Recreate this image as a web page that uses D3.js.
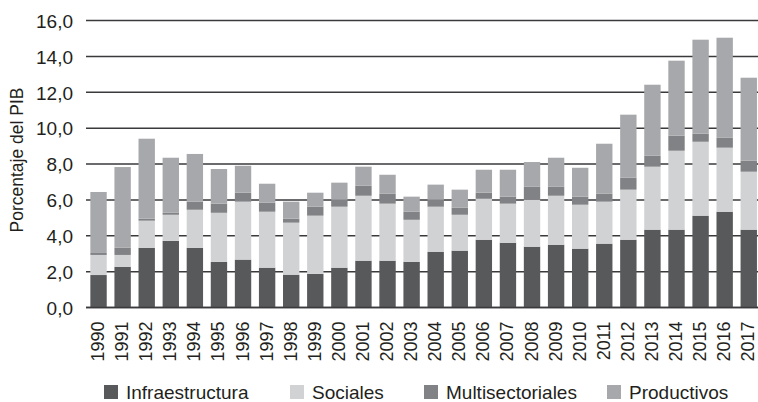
<!DOCTYPE html>
<html>
<head>
<meta charset="utf-8">
<script src="https://cdn.jsdelivr.net/npm/d3@7"></script>
<style>
  html, body { margin: 0; padding: 0; background: #fff; }
  svg { display: block; }
  text { font-family: "Liberation Sans", Arial, sans-serif; fill: #231f20; }
</style>
</head>
<body>
<svg id="chart" width="758" height="402"></svg>
<script>
// Years on the horizontal axis
const years = ["1990","1991","1992","1993","1994","1995","1996","1997","1998","1999",
  "2000","2001","2002","2003","2004","2005","2006","2007","2008","2009",
  "2010","2011","2012","2013","2014","2015","2016","2017"];

// Stacked components, percent of GDP
const infraestructura = [1.81,2.27,3.33,3.72,3.33,2.54,2.67,2.22,1.83,1.88,
  2.22,2.61,2.61,2.55,3.11,3.17,3.78,3.61,3.39,3.50,
  3.28,3.56,3.78,4.34,4.34,5.12,5.34,4.34];
const sociales = [1.12,0.66,1.51,1.45,2.12,2.74,3.23,3.12,2.90,3.24,
  3.40,3.62,3.18,2.34,2.51,2.00,2.28,2.18,2.62,2.73,
  2.45,2.34,2.79,3.51,4.40,4.12,3.57,3.23];
const multisectoriales = [0.11,0.40,0.11,0.11,0.45,0.51,0.50,0.50,0.22,0.50,
  0.39,0.56,0.55,0.45,0.39,0.39,0.34,0.39,0.72,0.50,
  0.45,0.44,0.67,0.61,0.84,0.45,0.55,0.61];
const productivos = [3.40,4.50,4.46,3.07,2.66,1.93,1.50,1.06,0.95,0.78,
  0.95,1.06,1.06,0.84,0.84,1.01,1.28,1.50,1.38,1.62,
  1.61,2.79,3.51,3.96,4.18,5.24,5.58,4.63];

const seriesNames = ["Infraestructura","Sociales","Multisectoriales","Productivos"];
const seriesColors = ["#58595b","#d1d2d4","#818285","#a7a8ab"];
const yTicks = [0,2,4,6,8,10,12,14,16];

const rows = years.map((y, i) => ({
  year: y,
  Infraestructura: infraestructura[i],
  Sociales: sociales[i],
  Multisectoriales: multisectoriales[i],
  Productivos: productivos[i]
}));

const svg = d3.select("#chart");
const plot = { left: 86, right: 758, top: 20.5, bottom: 307.5 };

const x = d3.scaleBand()
  .domain(years)
  .range([86.5, 760.8])
  .paddingInner(0.32)
  .paddingOuter(0.16);

const y = d3.scaleLinear()
  .domain([0, 16])
  .range([plot.bottom, plot.top]);

const fmt = v => d3.format(".1f")(v).replace(".", ",");

// Horizontal gridlines behind the bars
svg.append("g")
  .selectAll("line")
  .data(yTicks)
  .join("line")
  .attr("x1", plot.left)
  .attr("x2", plot.right)
  .attr("y1", d => y(d))
  .attr("y2", d => y(d))
  .attr("stroke", "#3a3a3c")
  .attr("stroke-width", 1.5);

// Y axis labels
const yAxis = d3.axisLeft(y).tickValues(yTicks).tickFormat(fmt).tickSize(0).tickPadding(0);
const gy = svg.append("g").attr("transform", `translate(73,0)`).call(yAxis);
gy.select(".domain").remove();
gy.selectAll("text")
  .style("font-size", "19px")
  .style("font-family", null)
  .attr("fill", "#231f20")
  .attr("dy", "0.36em");

// Stacked bars
const stack = d3.stack().keys(seriesNames);
const layers = stack(rows);

svg.append("g")
  .selectAll("g")
  .data(layers)
  .join("g")
  .attr("fill", (d, i) => seriesColors[i])
  .selectAll("rect")
  .data(d => d)
  .join("rect")
  .attr("x", d => x(d.data.year))
  .attr("width", x.bandwidth())
  .attr("y", d => y(d[1]))
  .attr("height", d => y(d[0]) - y(d[1]));

// Baseline over the bars
svg.append("line")
  .attr("x1", plot.left).attr("x2", plot.right)
  .attr("y1", y(0)).attr("y2", y(0))
  .attr("stroke", "#3a3a3c").attr("stroke-width", 1.5);

// X axis year labels, rotated
const xAxis = d3.axisBottom(x).tickSize(0).tickPadding(0);
const gx = svg.append("g").attr("transform", `translate(0,${plot.bottom})`).call(xAxis);
gx.select(".domain").remove();
gx.selectAll("text")
  .style("font-size", "18px")
  .style("font-family", null)
  .attr("fill", "#231f20")
  .attr("text-anchor", "end")
  .attr("transform", "rotate(-90)")
  .attr("x", -14)
  .attr("y", -1)
  .attr("dy", "0.36em");

// Y axis title
svg.append("text")
  .attr("transform", "translate(17,160) rotate(-90)")
  .attr("text-anchor", "middle")
  .attr("dy", "0.36em")
  .style("font-size", "17.5px")
  .text("Porcentaje del PIB");

// Legend
const legendX = [104, 290, 424, 607];
const legend = svg.append("g");
seriesNames.forEach((name, i) => {
  legend.append("rect")
    .attr("x", legendX[i]).attr("y", 385)
    .attr("width", 14).attr("height", 14)
    .attr("fill", seriesColors[i]);
  legend.append("text")
    .attr("x", legendX[i] + 22).attr("y", 392)
    .attr("dy", "0.36em")
    .style("font-size", "19px")
    .text(name);
});
</script>
</body>
</html>
